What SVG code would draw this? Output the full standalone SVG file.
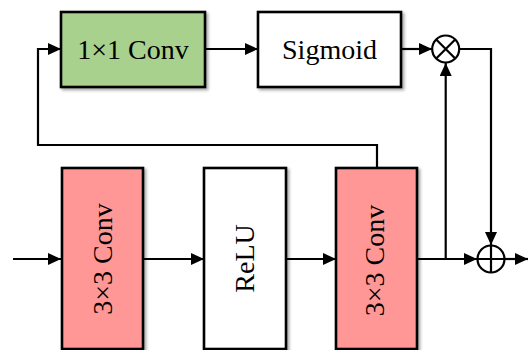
<svg xmlns="http://www.w3.org/2000/svg" width="528" height="350" viewBox="0 0 528 350">
<defs>
<filter id="sh" x="-10%" y="-10%" width="130%" height="130%">
<feDropShadow dx="2" dy="2" stdDeviation="1.5" flood-color="#000" flood-opacity="0.35"/>
</filter>
<marker id="ah" markerUnits="userSpaceOnUse" markerWidth="14" markerHeight="12" viewBox="0 0 14 12" refX="13" refY="6" orient="auto">
<path d="M0,0 L13,6 L0,12 Z" fill="#000"/>
</marker>
</defs>
<style>
.box{stroke:#000;stroke-width:2.6;filter:url(#sh)}
.green{fill:#A9D18E}
.pink{fill:#FF9797}
.white{fill:#fff}
.lbl{font-family:"Liberation Serif","Times New Roman",serif;font-size:28px;fill:#000;text-anchor:middle}
.ln{fill:none;stroke:#000;stroke-width:2.2}
.op{fill:#fff;stroke:#000;stroke-width:2.2}
</style>
<rect width="528" height="350" fill="#fff"/>
<g id="connectors">
<path class="ln" d="M13,259 L61,259" marker-end="url(#ah)"/>
<path class="ln" d="M143,259 L204,259" marker-end="url(#ah)"/>
<path class="ln" d="M286,259 L336,259" marker-end="url(#ah)"/>
<path class="ln" d="M417,259 L477,259" marker-end="url(#ah)"/>
<path class="ln" d="M505,259 L528,259" marker-end="url(#ah)"/>
<path class="ln" d="M445.7,259 L445.7,63" marker-end="url(#ah)"/>
<path class="ln" d="M377,168 L377,145 L38,145 L38,49 L61,49" marker-end="url(#ah)"/>
<path class="ln" d="M205,49 L258,49" marker-end="url(#ah)"/>
<path class="ln" d="M401,49 L432,49" marker-end="url(#ah)"/>
<path class="ln" d="M459.5,49 L491,49 L491,245" marker-end="url(#ah)"/>
</g>
<g id="conv1x1">
<rect class="box green" x="61" y="12" width="144" height="75"/>
<text class="lbl" x="133" y="59">1×1 Conv</text>
</g>
<g id="sigmoid">
<rect class="box white" x="258" y="12" width="143" height="75"/>
<text class="lbl" x="329.5" y="59">Sigmoid</text>
</g>
<g id="mul">
<circle class="op" cx="445.7" cy="49" r="13.5"/>
<path class="ln" d="M436.2,39.5 L455.2,58.5 M455.2,39.5 L436.2,58.5"/>
</g>
<g id="conv3x3a">
<rect class="box pink" x="62" y="168" width="81" height="181"/>
<text class="lbl" transform="translate(111.5,259) rotate(-90)">3×3 Conv</text>
</g>
<g id="relu">
<rect class="box white" x="204" y="168" width="82" height="181"/>
<text class="lbl" transform="translate(253.5,258.5) rotate(-90)">ReLU</text>
</g>
<g id="conv3x3b">
<rect class="box pink" x="336" y="168" width="81" height="181"/>
<text class="lbl" transform="translate(384,260.5) rotate(-90)">3×3 Conv</text>
</g>
<g id="add">
<circle class="op" cx="491" cy="259" r="13.5"/>
<path class="ln" d="M477.5,259 L504.5,259 M491,245.5 L491,272.5"/>
</g>
</svg>
